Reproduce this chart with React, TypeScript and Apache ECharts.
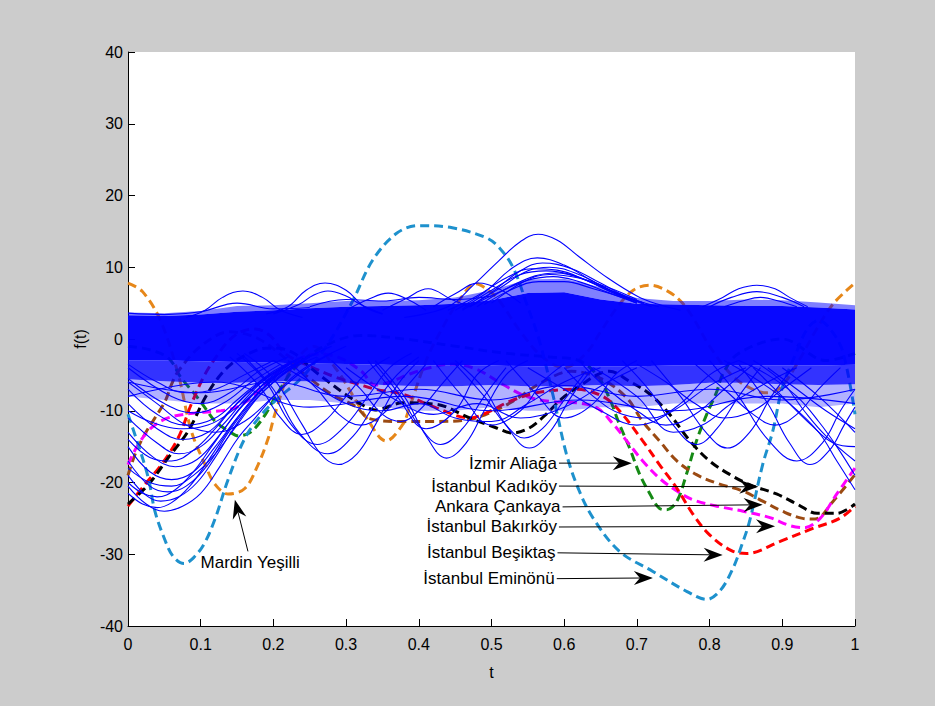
import React, { useEffect, useRef } from "react";
import * as echarts from "echarts";

// ---------- highlighted districts: [t, f(t)] ----------
const mardinYesilli = [[0,7.8],[0.02,6.6],[0.045,2.5],[0.069,-4.9],[0.087,-12.8],[0.106,-17.5],[0.12,-20.3],[0.138,-21.6],[0.161,-20.8],[0.179,-17.5],[0.193,-13.8],[0.202,-10.5],[0.225,-4],[0.255,-1],[0.285,-4],[0.31,-8],[0.328,-11],[0.355,-14.2],[0.378,-11.9],[0.387,-9.6],[0.41,-3],[0.435,2],[0.455,5.3],[0.478,7.7],[0.497,6.7],[0.511,5.3],[0.54,1],[0.57,-2.5],[0.6,-4],[0.63,-2],[0.65,1],[0.672,4.3],[0.695,6.8],[0.718,7.5],[0.74,6.8],[0.76,5.3],[0.777,3],[0.8,-1],[0.83,-5],[0.855,-6.8],[0.878,-7.5],[0.897,-6.8],[0.92,-3.5],[0.945,1],[0.97,4.9],[1,7.8]];
const istanbulEminonu = [[0,-10.5],[0.014,-14.7],[0.028,-19.4],[0.037,-24],[0.05,-27.8],[0.062,-30.3],[0.077,-31.3],[0.09,-30.5],[0.105,-28.5],[0.12,-25],[0.138,-19.5],[0.161,-13.8],[0.184,-10.5],[0.207,-8.2],[0.239,-5.4],[0.275,-0.7],[0.309,5.3],[0.336,10.9],[0.369,14.7],[0.4,15.8],[0.446,15.5],[0.493,14.1],[0.511,12.7],[0.53,9.9],[0.548,5],[0.566,-0.3],[0.585,-8],[0.603,-16],[0.62,-21],[0.64,-25],[0.676,-29.6],[0.722,-32.4],[0.769,-35.2],[0.796,-36.3],[0.815,-35],[0.832,-32],[0.845,-28.5],[0.855,-25.4],[0.873,-17.5],[0.887,-12.8],[0.9,-6.8],[0.92,-1.7],[0.935,1.5],[0.95,2.6],[0.965,1.5],[0.983,-1.7],[1,-10.5]];
const istanbulBesiktas = [[0,-23.3],[0.023,-20.3],[0.046,-17.5],[0.069,-13.8],[0.087,-9.1],[0.106,-4.9],[0.124,-2.1],[0.138,-0.3],[0.155,1],[0.175,1.4],[0.195,0.5],[0.217,-2.1],[0.25,-3.8],[0.285,-5.3],[0.317,-6.3],[0.34,-7],[0.378,-7.7],[0.424,-9.6],[0.47,-11],[0.493,-10.3],[0.525,-8.7],[0.562,-7.5],[0.617,-7],[0.653,-8],[0.676,-10],[0.708,-14.2],[0.731,-17.5],[0.755,-20.8],[0.777,-24.4],[0.8,-27.3],[0.83,-29.5],[0.851,-29.9],[0.897,-28.2],[0.942,-26.4],[0.979,-25],[1,-23.3]];
const istanbulKadikoy = [[0,-23],[0.028,-20.3],[0.055,-16.6],[0.083,-12.8],[0.106,-8.2],[0.124,-5.4],[0.142,-3.5],[0.165,-2.1],[0.189,-1.3],[0.207,-1.3],[0.23,-2.1],[0.252,-4.1],[0.275,-5.9],[0.299,-7.7],[0.321,-9.1],[0.34,-9.9],[0.378,-8.9],[0.424,-9.1],[0.47,-11],[0.507,-12.4],[0.529,-13.1],[0.552,-12.4],[0.575,-10.5],[0.598,-8.2],[0.625,-6.3],[0.645,-5],[0.662,-4.5],[0.69,-5.9],[0.718,-7.7],[0.745,-10.5],[0.773,-14.2],[0.8,-17],[0.828,-18.9],[0.855,-20.3],[0.892,-21.6],[0.92,-23],[0.948,-24.3],[0.975,-24.3],[1,-23]];
const istanbulBakirkoy = [[0,-17.5],[0.014,-14.7],[0.032,-12.4],[0.055,-11],[0.092,-10.3],[0.128,-10],[0.152,-9.4],[0.175,-7.7],[0.197,-5.4],[0.22,-3.5],[0.244,-2.4],[0.266,-2.1],[0.293,-2.7],[0.321,-4.5],[0.34,-6.4],[0.36,-6],[0.387,-4.9],[0.415,-4],[0.446,-3.5],[0.479,-4.2],[0.515,-6.3],[0.548,-8],[0.58,-8.7],[0.617,-8.9],[0.645,-9.6],[0.667,-11.8],[0.686,-14.2],[0.708,-17],[0.731,-19.4],[0.755,-21.2],[0.777,-22.4],[0.81,-23.3],[0.846,-24],[0.883,-24.9],[0.91,-26],[0.93,-26.3],[0.952,-25],[0.975,-21.6],[1,-18]];
const ankaraCankaya = [[0,-19],[0.01,-16],[0.023,-13.3],[0.037,-11],[0.051,-8.7],[0.06,-6.3],[0.069,-4.5],[0.1,-1],[0.14,1],[0.18,0],[0.22,-3],[0.25,-5.5],[0.28,-7.7],[0.313,-9.4],[0.332,-11.1],[0.378,-11.5],[0.424,-11.5],[0.47,-11.2],[0.5,-10.2],[0.529,-8.7],[0.57,-6],[0.61,-4.5],[0.65,-5.5],[0.686,-8.2],[0.708,-11.5],[0.731,-14.2],[0.755,-17],[0.782,-18.9],[0.81,-20.1],[0.846,-21.2],[0.873,-22.6],[0.9,-24],[0.928,-25],[0.945,-25.1],[0.97,-22.6],[1,-18.9]];
const izmirAliaga = [[0,-1],[0.03,-1.5],[0.056,-2.7],[0.073,-5.4],[0.092,-7.7],[0.106,-9.6],[0.12,-11.5],[0.138,-12.8],[0.152,-13.5],[0.165,-13.2],[0.175,-12.4],[0.189,-10.5],[0.202,-8.2],[0.23,-4],[0.27,-1],[0.32,0.5],[0.38,0],[0.45,-1],[0.52,-2],[0.58,-2.5],[0.62,-3],[0.645,-5],[0.662,-8.2],[0.676,-11.9],[0.69,-15.2],[0.704,-18.9],[0.718,-21.6],[0.731,-23.6],[0.741,-23.8],[0.755,-22.6],[0.768,-18.9],[0.782,-14.2],[0.796,-10.5],[0.81,-7.3],[0.818,-4.9],[0.84,-2],[0.9,0],[0.96,-3],[1,-2]];

// ---------- dense core of all other curves ----------
const bandT = [0,0.05,0.1,0.15,0.2,0.25,0.3,0.35,0.4,0.45,0.5,0.55,0.6,0.65,0.7,0.75,0.8,0.85,0.9,0.95,1];
const bandUpperSoft = [3.7,3.6,3.9,4.6,4.7,5.0,5.3,5.3,5.4,5.8,6.8,8.3,8.4,7.2,5.7,5.3,5.3,5.5,5.4,5.1,4.7];
const bandUpper = [3.3,3.2,3.4,3.8,4.0,4.3,4.5,4.6,4.7,4.9,5.4,6.4,6.5,5.5,4.9,4.8,4.7,4.6,4.6,4.4,4.1];
const bandLower = [-3.0,-3.0,-3.1,-3.2,-3.3,-3.4,-3.5,-3.6,-3.7,-3.7,-3.7,-3.8,-3.8,-3.8,-3.8,-3.7,-3.7,-3.7,-3.7,-3.7,-3.6];
const bandLowerSoft = [-5.6,-5.9,-6.1,-6.1,-5.9,-5.9,-6.1,-6.4,-6.6,-6.6,-6.4,-6.6,-6.6,-6.4,-6.6,-6.4,-6.1,-6.1,-6.3,-6.4,-6.3];
const bandLowerFaint = [-8.0,-8.5,-9.0,-9.0,-8.5,-8.5,-9.0,-9.5,-10,-10,-9.5,-10,-10,-9.5,-9.5,-9.0,-9.0,-9.0,-9.0,-9.5,-9.0];

// ---------- individual blue curves ----------
const blueLeftFan = [
  [[0,-20.5],[0.025,-23],[0.05,-24],[0.075,-23.3],[0.1,-21.5],[0.125,-18],[0.15,-14],[0.175,-11],[0.2,-8],[0.23,-5],[0.26,-3],[0.3,-1]],
  [[0,-19],[0.025,-21.8],[0.045,-22.6],[0.07,-22],[0.095,-20],[0.12,-16.5],[0.145,-12.5],[0.17,-9],[0.2,-6],[0.24,-3],[0.28,-1]],
  [[0,-17],[0.03,-20.5],[0.055,-21.3],[0.08,-20.5],[0.11,-17.5],[0.135,-13.5],[0.16,-10],[0.19,-6.5],[0.22,-4],[0.26,-2]],
  [[0,-15],[0.03,-18.5],[0.06,-19.6],[0.09,-18.5],[0.12,-15],[0.15,-11],[0.18,-7.5],[0.21,-5],[0.25,-2.5]],
  [[0,-13],[0.035,-16.5],[0.065,-17.8],[0.095,-16.8],[0.125,-13.5],[0.155,-9.5],[0.185,-6.5],[0.22,-4],[0.26,-2]],
  [[0,-11],[0.04,-14.5],[0.07,-16],[0.1,-15],[0.13,-12],[0.16,-8.5],[0.19,-5.5],[0.23,-3]],
  [[0,-9],[0.04,-12.5],[0.075,-14],[0.11,-13],[0.14,-10],[0.17,-7],[0.2,-4.5],[0.24,-2.5]],
  [[0,-7],[0.04,-10.5],[0.08,-12],[0.12,-11],[0.15,-8.5],[0.18,-6],[0.22,-3.5]],
  [[0,-5.5],[0.05,-9],[0.09,-10.3],[0.13,-9],[0.17,-6],[0.21,-3.5]],
  [[0,-20],[0.02,-21.5],[0.04,-22],[0.065,-21],[0.09,-18.5],[0.115,-15],[0.14,-11.5],[0.165,-8.5],[0.2,-5],[0.24,-2.5]],
  [[0,-4],[0.06,-8],[0.1,-9],[0.14,-7.5],[0.18,-4.5],[0.22,-2.5]],
  [[0,-6],[0.04,-9],[0.08,-12],[0.12,-13],[0.16,-11.5],[0.2,-8],[0.24,-4.5],[0.28,-2]],
  [[0,-21.5],[0.02,-23],[0.04,-23.5],[0.06,-22.8],[0.085,-20.5],[0.11,-17],[0.14,-12.5],[0.17,-8.5],[0.2,-5.5],[0.24,-3]],
  [[0,-18],[0.03,-20],[0.06,-20.5],[0.09,-19],[0.12,-16],[0.15,-12],[0.18,-8],[0.22,-4.5],[0.26,-2.5]],
  [[0,-14],[0.03,-16.5],[0.06,-17],[0.09,-15.5],[0.12,-12.5],[0.15,-9],[0.19,-5.5],[0.23,-3]],
  [[0,-10],[0.03,-11.5],[0.07,-12.5],[0.11,-12],[0.15,-9.5],[0.19,-6],[0.23,-3]],
  [[0,-3.5],[0.04,-6],[0.08,-7.5],[0.12,-7],[0.16,-5],[0.2,-3]],
];
const blueMiddleDips = [
  [[0.16,-2],[0.2,-5.5],[0.24,-12],[0.265,-16],[0.289,-17.5],[0.315,-16],[0.34,-12],[0.37,-6.5],[0.4,-3]],
  [[0.16,-2.5],[0.2,-7],[0.235,-13],[0.275,-16],[0.31,-13.5],[0.34,-9],[0.37,-5],[0.4,-2.5]],
  [[0.15,-2],[0.19,-6],[0.225,-12],[0.26,-14.7],[0.295,-12.5],[0.33,-8],[0.36,-4],[0.39,-2]],
  [[0.14,-2.5],[0.18,-6.5],[0.21,-11],[0.239,-13.3],[0.27,-11.5],[0.3,-8],[0.33,-4.5],[0.36,-2.5]],
  [[0.22,-3],[0.26,-7],[0.29,-10.5],[0.32,-12],[0.35,-10.5],[0.38,-7],[0.41,-3.5]],
  [[0.28,-3],[0.32,-7],[0.35,-10.5],[0.375,-11.5],[0.4,-10],[0.43,-6.5],[0.46,-3]],
  [[0.34,-3],[0.38,-8],[0.41,-13.5],[0.438,-16.6],[0.465,-14.5],[0.49,-10],[0.52,-5],[0.55,-3]],
  [[0.34,-3.5],[0.375,-8],[0.4,-12],[0.43,-14.7],[0.46,-12.5],[0.49,-8],[0.52,-4]],
  [[0.33,-3],[0.37,-8],[0.41,-12.5],[0.45,-10],[0.48,-5],[0.51,-3]],
  [[0.45,-3],[0.49,-7],[0.52,-12],[0.552,-15.2],[0.58,-13],[0.61,-8],[0.64,-4]],
  [[0.45,-3.5],[0.49,-8],[0.52,-12],[0.545,-13.8],[0.57,-12.5],[0.6,-8.5],[0.63,-4.5]],
  [[0.42,-3],[0.46,-8],[0.5,-12],[0.54,-10],[0.57,-6],[0.6,-3.5]],
  [[0.52,-3],[0.56,-7.5],[0.6,-11],[0.64,-9],[0.67,-5],[0.7,-3]],
  [[0,-6],[0.1,-7.5],[0.2,-6],[0.3,-8],[0.4,-7],[0.5,-8.5],[0.6,-6.5],[0.7,-8],[0.8,-7],[0.9,-8.5],[1,-7]],
  [[0,-8],[0.12,-6],[0.25,-9.5],[0.38,-8],[0.5,-10],[0.62,-8.5],[0.75,-10],[0.88,-8],[1,-9]],
  [[0.2,-3],[0.25,-6],[0.3,-9],[0.35,-10],[0.4,-9],[0.45,-11],[0.5,-11.5],[0.55,-9],[0.6,-6],[0.65,-4]],
  [[0.3,-4],[0.36,-8],[0.42,-10.5],[0.48,-9],[0.54,-11],[0.6,-9.5],[0.66,-6],[0.7,-4]],
  [[0.55,-4],[0.6,-7],[0.65,-10],[0.7,-12],[0.75,-10],[0.8,-6.5],[0.85,-4]],
  [[0.64,-4],[0.7,-8],[0.75,-13],[0.79,-12],[0.83,-9],[0.88,-6],[0.92,-4]],
];
const blueRightDips = [
  [[0.62,-3],[0.66,-7],[0.7,-10],[0.74,-12],[0.78,-10.5],[0.82,-7],[0.86,-3.5]],
  [[0.68,-3],[0.72,-7.5],[0.75,-12],[0.782,-14.7],[0.81,-12.5],[0.84,-8],[0.87,-4]],
  [[0.72,-3],[0.76,-8],[0.795,-13],[0.824,-15.2],[0.855,-13],[0.885,-8],[0.915,-4]],
  [[0.8,-3],[0.84,-8],[0.88,-14],[0.92,-17],[0.955,-14.5],[0.98,-10],[1,-7]],
  [[0.84,-3.5],[0.88,-9],[0.91,-14.5],[0.938,-17.5],[0.965,-15.5],[0.985,-12],[1,-9.5]],
  [[0.82,-3],[0.87,-6],[0.91,-9],[0.95,-13],[0.975,-17],[1,-21]],
  [[0.84,-3],[0.88,-5],[0.92,-8],[0.95,-11.5],[0.975,-15],[1,-19]],
  [[0.86,-3],[0.9,-6],[0.93,-10],[0.96,-13.5],[1,-17]],
  [[0.6,-4],[0.64,-8],[0.68,-10.5],[0.72,-11],[0.76,-9],[0.8,-5],[0.84,-3]],
  [[0.7,-3.5],[0.74,-6],[0.78,-9],[0.82,-11],[0.86,-10],[0.9,-7],[0.94,-4]],
  [[0.78,-3.5],[0.82,-7],[0.86,-10.5],[0.89,-12],[0.92,-10.5],[0.95,-7],[0.98,-4]],
  [[0.86,-4],[0.9,-8],[0.94,-12],[0.97,-14.5],[1,-15]],
  [[0.88,-4],[0.92,-7],[0.96,-10],[1,-12.5]],
  [[0.9,-4],[0.95,-8],[1,-13]],
];
const blueUpperBumps = [
  [[0.08,3],[0.106,4],[0.13,5.8],[0.158,6.7],[0.185,5.8],[0.21,4],[0.24,3]],
  [[0.19,3.5],[0.22,4.5],[0.245,6.8],[0.271,7.8],[0.3,6.8],[0.325,4.5],[0.35,3.5]],
  [[0.2,3.5],[0.235,4.8],[0.255,6.1],[0.275,6.7],[0.3,6],[0.32,4.8],[0.35,3.5]],
  [[0.3,4],[0.33,5.5],[0.358,6.4],[0.385,5.5],[0.41,4]],
  [[0.35,4],[0.38,5.5],[0.413,7],[0.445,5.5],[0.47,4.5]],
  [[0.42,4.5],[0.45,6.3],[0.482,7.8],[0.51,7],[0.54,5]],
  [[0.38,3],[0.44,4.5],[0.475,7.5],[0.51,10.9],[0.54,13.6],[0.564,14.6],[0.59,13.8],[0.62,11.5],[0.66,8.5],[0.7,6],[0.727,4.9],[0.76,4]],
  [[0.45,4],[0.49,6.5],[0.53,10],[0.563,11.3],[0.6,10.3],[0.64,8],[0.68,6],[0.72,4.5]],
  [[0.46,4],[0.5,6.5],[0.54,9.5],[0.57,10.6],[0.61,9.8],[0.65,7.8],[0.69,5.7],[0.73,4.5]],
  [[0.47,4.5],[0.51,7],[0.55,9.5],[0.58,10],[0.62,9],[0.66,7],[0.7,5.2]],
  [[0.46,4.2],[0.5,6.8],[0.54,9],[0.575,9.5],[0.615,8.8],[0.655,7],[0.7,5]],
  [[0.48,4.5],[0.52,7],[0.56,8.8],[0.59,9.2],[0.63,8.2],[0.67,6.5],[0.71,5]],
  [[0.47,4.5],[0.51,6.5],[0.55,8.2],[0.585,8.7],[0.62,8],[0.66,6.5],[0.7,5]],
  [[0.49,4.8],[0.53,7],[0.565,8],[0.6,8],[0.64,7],[0.68,5.8]],
  [[0.44,4],[0.48,6],[0.52,8.5],[0.555,9.8],[0.59,9.6],[0.63,8.2],[0.67,6.3],[0.71,5]],
  [[0.5,5],[0.545,8],[0.58,9],[0.62,8.5],[0.66,7.2],[0.7,5.5]],
  [[0.79,4.5],[0.818,5.8],[0.84,7],[0.865,7.5],[0.89,7],[0.91,5.8],[0.935,4.5]],
  [[0.8,4.5],[0.83,5.8],[0.865,6.6],[0.9,5.8],[0.93,4.5]],
  [[0.82,4.5],[0.845,5.3],[0.87,5.8],[0.895,5.3],[0.92,4.5]],
  [[0,3.6],[0.05,3.4],[0.1,3.8],[0.15,5],[0.2,4.2],[0.25,4.4]],
  [[0.25,4.5],[0.3,5.5],[0.35,5.3],[0.4,5.8],[0.45,5.5],[0.5,6]],
];

// ---------- annotations ----------
const annotationLabels = ["İzmir Aliağa", "İstanbul Kadıköy", "Ankara Çankaya", "İstanbul Bakırköy", "İstanbul Beşiktaş", "İstanbul Eminönü"];
const annotationTextEnd = [[0.590,-17.3],[0.590,-20.5],[0.595,-23.4],[0.590,-26.2],[0.588,-29.8],[0.587,-33.4]];
const annotationTip = [[0.693,-17.3],[0.867,-20.6],[0.873,-23.1],[0.890,-26.1],[0.818,-30.1],[0.722,-33.3]];
const mardinLabel = "Mardin Yeşilli";
const mardinTextCenter = [0.168, -31.2];
const mardinLineStart = [0.165, -29.6];
const mardinTip = [0.147, -22.4];

const xTicks = { min: 0, max: 1, interval: 0.1 };
const yTicks = { min: -40, max: 40, interval: 10 };

const FONT = "'Liberation Sans', Arial, Helvetica, sans-serif";

export default function App() {
  const ref = useRef<HTMLDivElement>(null);
  useEffect(() => {
    if (!ref.current) return;
    const chart = echarts.init(ref.current, undefined, { renderer: "svg" });

    const highlight = (name: string, data: number[][], color: string) => ({
      name, type: "line", data, smooth: 0.35, showSymbol: false, symbol: "none",
      lineStyle: { color, width: 3, type: [9, 5] }, z: 2, silent: true,
    });
    const blue = (data: number[][], i: number) => ({
      name: "b" + i, type: "line", data, smooth: 0.4, showSymbol: false, symbol: "none",
      lineStyle: { color: "#0000ff", width: 1.1 }, z: 4, silent: true,
    });
    const bands = [
      { upper: bandUpperSoft, lower: bandUpper, op: 0.5 },
      { upper: bandLower, lower: bandLowerSoft, op: 0.8 },
      { upper: bandLowerSoft, lower: bandLowerFaint, op: 0.3 },
      { upper: bandUpper, lower: bandLower, op: 0.97 },
    ];

    const allBlue = [...blueLeftFan, ...blueMiddleDips, ...blueRightDips, ...blueUpperBumps];

    chart.setOption({
      animation: false,
      backgroundColor: "#cccccc",
      grid: { left: 128, right: 80, top: 52, bottom: 80, show: true, backgroundColor: "#ffffff", borderWidth: 0 },
      xAxis: {
        type: "value", ...xTicks,
        name: "t", nameLocation: "middle", nameGap: 38,
        nameTextStyle: { color: "#000", fontSize: 16, fontFamily: FONT },
        axisLine: { onZero: false, lineStyle: { color: "#000", width: 1 } },
        axisTick: { inside: true, length: 7, lineStyle: { color: "#000" } },
        axisLabel: { color: "#000", fontSize: 16, fontFamily: FONT, margin: 10,
          formatter: (v: number) => String(Math.round(v * 10) / 10) },
        splitLine: { show: false },
      },
      yAxis: {
        type: "value", ...yTicks,
        name: "f(t)", nameLocation: "middle", nameGap: 32, nameRotate: 90,
        nameTextStyle: { color: "#000", fontSize: 16, fontFamily: FONT },
        axisLine: { onZero: false, lineStyle: { color: "#000", width: 1 } },
        axisTick: { inside: true, length: 7, lineStyle: { color: "#000" } },
        axisLabel: { color: "#000", fontSize: 16, fontFamily: FONT, margin: 5 },
        splitLine: { show: false },
      },
      series: [
        highlight("Mardin Yeşilli", mardinYesilli, "#e6871a"),
        highlight("İzmir Aliağa", izmirAliaga, "#158a15"),
        highlight("Ankara Çankaya", ankaraCankaya, "#9b4a12"),
        highlight("İstanbul Bakırköy", istanbulBakirkoy, "#ff00ff"),
        highlight("İstanbul Beşiktaş", istanbulBesiktas, "#ff0000"),
        highlight("İstanbul Kadıköy", istanbulKadikoy, "#000000"),
        highlight("İstanbul Eminönü", istanbulEminonu, "#1e91cd"),
        {
          name: "core", type: "custom", z: 3, silent: true, clip: true,
          data: bands.map((_, i) => [i]),
          renderItem: (params: any, api: any) => {
            const b = bands[params.dataIndex];
            const pts: number[][] = [];
            for (let i = 0; i < bandT.length; i++) pts.push(api.coord([bandT[i], b.upper[i]]));
            for (let i = bandT.length - 1; i >= 0; i--) pts.push(api.coord([bandT[i], b.lower[i]]));
            return { type: "polygon", shape: { points: pts }, style: { fill: "#0000ff", opacity: b.op } };
          },
        },
        ...allBlue.map((d, i) => blue(d, i)),
      ],
    });

    const px = (p: number[]) => chart.convertToPixel({ gridIndex: 0 }, p) as number[];
    const arrow = (s: number[], p: number[]) => {
      const dx = p[0] - s[0], dy = p[1] - s[1];
      const len = Math.hypot(dx, dy) || 1;
      const ux = dx / len, uy = dy / len, nx = -uy, ny = ux;
      const L = 19, W = 7, notch = 6;
      const bx = p[0] - ux * L, by = p[1] - uy * L;
      const mx = p[0] - ux * (L - notch), my = p[1] - uy * (L - notch);
      return [
        { type: "line", z: 100, silent: true, shape: { x1: s[0], y1: s[1], x2: mx, y2: my },
          style: { stroke: "#000", lineWidth: 1 } },
        { type: "polygon", z: 100, silent: true,
          shape: { points: [[p[0], p[1]], [bx + nx * W, by + ny * W], [mx, my], [bx - nx * W, by - ny * W]] },
          style: { fill: "#000" } },
      ];
    };
    const graphics: any[] = [];
    annotationLabels.forEach((label, i) => {
      const te = px(annotationTextEnd[i]);
      const tip = px(annotationTip[i]);
      graphics.push({ type: "text", z: 100, silent: true, x: te[0], y: te[1],
        style: { text: label, fill: "#000", fontSize: 17, fontFamily: FONT, align: "right", verticalAlign: "middle" } });
      graphics.push(...arrow([te[0] + 2, te[1]], tip));
    });
    const mc = px(mardinTextCenter);
    graphics.push({ type: "text", z: 100, silent: true, x: mc[0], y: mc[1],
      style: { text: mardinLabel, fill: "#000", fontSize: 17, fontFamily: FONT, align: "center", verticalAlign: "middle" } });
    graphics.push(...arrow(px(mardinLineStart), px(mardinTip)));
    chart.setOption({ graphic: graphics });

    return () => chart.dispose();
  }, []);
  return <div ref={ref} style={{ position: "fixed", left: 0, top: 0, width: 935, height: 706 }} />;
}
